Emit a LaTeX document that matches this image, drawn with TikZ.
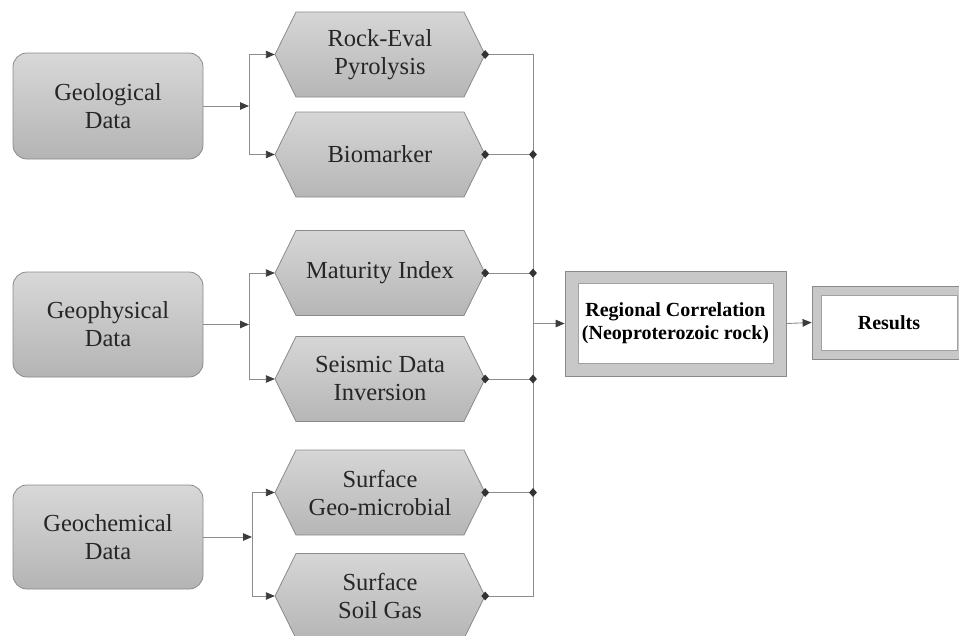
\documentclass[tikz,border=0pt]{standalone}
\usepackage{fontspec}
\setmainfont{Liberation Serif}
\usetikzlibrary{arrows.meta,shapes.geometric}
\definecolor{boxtop}{HTML}{D8D8D8}
\definecolor{boxbot}{HTML}{B4B4B4}
\definecolor{hextop}{HTML}{D6D6D6}
\definecolor{hexbot}{HTML}{B6B6B6}
\definecolor{bordc}{HTML}{8A8A8A}
\definecolor{linec}{HTML}{8C8C8C}
\definecolor{arrc}{HTML}{3C3C3C}
\definecolor{dotc}{HTML}{333333}
\definecolor{txt}{HTML}{262626}
\definecolor{outerfill}{HTML}{C8C8C8}
\tikzset{
  leftbox/.style={rounded corners=14pt, draw=bordc, line width=0.8pt,
    top color=boxtop, bottom color=boxbot, minimum width=190pt,
    minimum height=105pt, align=center, inner sep=0pt, text=txt,
    font=\fontsize{24.5}{28}\selectfont},
  hexn/.style={minimum width=210pt, minimum height=85pt, inner sep=0pt,
    align=center, text=txt, font=\fontsize{24.5}{28}\selectfont},
  hexshape/.style={draw=bordc, line width=0.8pt, top color=hextop, bottom color=hexbot},
  outerbox/.style={draw=bordc, line width=0.8pt, fill=outerfill, inner sep=0pt},
  innerbox/.style={draw=bordc!80, line width=0.8pt, fill=white, inner sep=0pt,
    align=center, text=black, font=\bfseries\fontsize{20}{23}\selectfont},
  conn/.style={draw=linec, line width=0.9pt},
  arr/.style={-{Triangle[length=9pt,width=7.5pt,color=arrc]}},
  dot/.style={diamond, fill=dotc, inner sep=0pt, minimum width=8pt, minimum height=9pt}
}
\newcommand\hexagonbox[3]{%
  \path[hexshape] (275,#2) -- (296,{#2-42.5}) -- (464,{#2-42.5}) -- (485,#2)
    -- (464,{#2+42.5}) -- (296,{#2+42.5}) -- cycle;
  \node[hexn] (#1) at (380,#2) {#3};}
\begin{document}
\begin{tikzpicture}[x=1pt,y=-1pt]
\useasboundingbox (0,0) rectangle (959,635);
% left boxes
\node[leftbox, minimum height=106pt] (geol) at (108,106) {Geological\\Data};
\node[leftbox] (geop) at (108,324.5) {Geophysical\\Data};
\node[leftbox, minimum height=104pt] (geoc) at (108,537) {Geochemical\\Data};
% hexagons
\hexagonbox{h1}{54.5}{Rock-Eval\\Pyrolysis}
\hexagonbox{h2}{154.5}{Biomarker}
\hexagonbox{h3}{273}{Maturity Index}
\hexagonbox{h4}{379}{Seismic Data\\Inversion}
\hexagonbox{h5}{492.5}{Surface\\Geo-microbial}
\hexagonbox{h6}{596}{Surface\\Soil Gas}
% coordinates
\coordinate (bx1) at (249,0);
\coordinate (bx2) at (249,0);
\coordinate (bx3) at (252,0);
\coordinate (vx) at (533,0);
% left connectors
\draw[conn,arr] (geol.east) -- (geol.east -| bx1);
\draw[conn] (h1.west -| bx1) -- (h2.west -| bx1);
\draw[conn,arr] (h1.west -| bx1) -- (h1.west);
\draw[conn,arr] (h2.west -| bx1) -- (h2.west);
\draw[conn,arr] (geop.east) -- (geop.east -| bx2);
\draw[conn] (h3.west -| bx2) -- (h4.west -| bx2);
\draw[conn,arr] (h3.west -| bx2) -- (h3.west);
\draw[conn,arr] (h4.west -| bx2) -- (h4.west);
\draw[conn,arr] (geoc.east) -- (geoc.east -| bx3);
\draw[conn] (h5.west -| bx3) -- (h6.west -| bx3);
\draw[conn,arr] (h5.west -| bx3) -- (h5.west);
\draw[conn,arr] (h6.west -| bx3) -- (h6.west);
% right collector
\draw[conn] (h1.east) -- (h1.east -| vx) -- (h6.east -| vx) -- (h6.east);
\foreach \h in {h2,h3,h4,h5} {
  \draw[conn] (\h.east) -- (\h.east -| vx);
  \node[dot] (j\h) at (\h.east -| vx) {};
}
\foreach \h in {h1,h2,h3,h4,h5,h6} {
  \node[dot] (d\h) at (\h.east) {};
}
% regional
\node[outerbox, minimum width=221pt, minimum height=105pt] (regout) at (675.5,323.5) {};
\node[innerbox, minimum width=195pt, minimum height=80pt] (reg) at (675.5,323.5) {Regional Correlation\\(Neoproterozoic rock)};
\draw[conn,arr] (regout.west -| vx) -- (regout.west);
% results
\node[outerbox, minimum width=154pt, minimum height=73pt] (resout) at (889,322.5) {};
\node[innerbox, minimum width=136pt, minimum height=55pt] (res) at (889,322.5) {Results};
\draw[conn,arr] (regout.east) -- (resout.west);
\end{tikzpicture}
\end{document}
